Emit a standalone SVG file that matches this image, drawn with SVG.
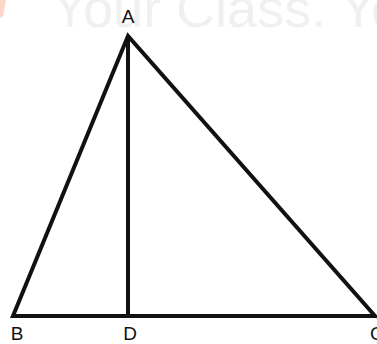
<svg xmlns="http://www.w3.org/2000/svg" width="377" height="344" viewBox="0 0 377 344">
<style>
.wm{font-family:"Liberation Sans",Arial,sans-serif;font-size:54px;fill:#f0f0f0}
.lbl{font-family:"Liberation Sans",Arial,sans-serif;font-size:19px;fill:#111}
.ln{stroke:#111;stroke-width:4;fill:none;stroke-linecap:butt;stroke-linejoin:miter}
</style>
<rect width="377" height="344" fill="#fff"/>
<g id="watermark">
<path d="M0,0 H6 L3,16 L0,18 Z" fill="#fcd6c8"/>
<text class="wm" x="52" y="27">Your Class. Yo</text>
</g>
<g id="connectors">
<path class="ln" d="M13,316 L128,36 L375,316 Z"/>
<line class="ln" x1="128" y1="36" x2="128" y2="316"/>
</g>
<g id="node-A"><text class="lbl" x="128" y="23" text-anchor="middle" font-size="17">A</text></g>
<g id="node-B"><text class="lbl" x="17" y="340" text-anchor="middle">B</text></g>
<g id="node-D"><text class="lbl" x="130" y="340" text-anchor="middle">D</text></g>
<g id="node-C"><text class="lbl" x="370" y="340">C</text></g>
</svg>
